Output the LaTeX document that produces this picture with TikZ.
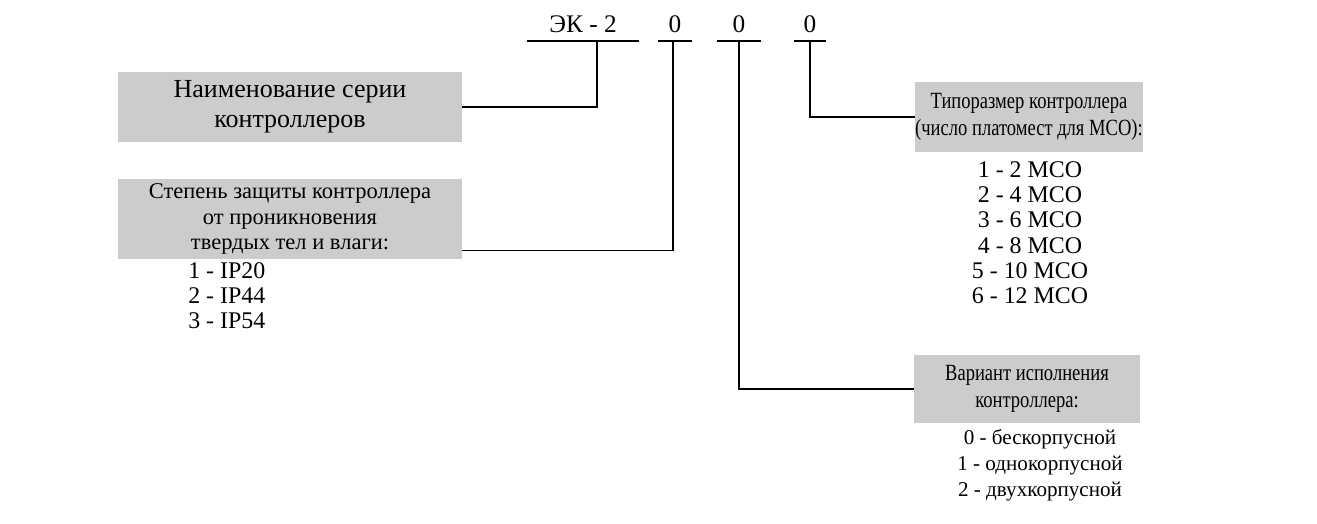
\documentclass[tikz,border=0pt]{standalone}
\usepackage{fontspec}
\setmainfont{Liberation Serif}
\newfontfamily\narrowserif[FakeStretch=0.8]{Liberation Serif}
\usetikzlibrary{calc}

\begin{document}
\begin{tikzpicture}[x=0.025cm, y=-0.025cm,
    code/.style={font=\fontsize{18}{20}\selectfont, inner xsep=0pt, inner ysep=6pt, text depth=0pt, anchor=south},
    caption/.style={fill=black!20, inner sep=0pt, align=center},
    values/.style={inner sep=0pt, font=\fontsize{17}{18}\selectfont},
    line/.style={line width=1.1pt}
  ]
    \useasboundingbox (0,0) rectangle (1317,524);

    % Designation
    \node[code, minimum width=2.8cm] (ek) at (583,41) {ЭК - 2};
    \node[code, minimum width=0.85cm] (z1) at (675,41) {0};
    \node[code, minimum width=1.075cm] (z2) at (739,41) {0};
    \node[code, minimum width=0.775cm] (z3) at (810,41) {0};
    \foreach \n in {ek,z1,z2,z3}
      \draw[line] (\n.south west) -- (\n.south east);

    % Captions
    \node[caption, minimum width=8.6cm, minimum height=1.75cm,
      font=\fontsize{18.5}{21}\selectfont] (name) at (290,107)
      {Наименование серии\\контроллеров};
    \node[caption, minimum width=8.6cm, minimum height=2cm,
      font=\fontsize{16}{18}\selectfont] (prot) at (290,219)
      {Степень защиты контроллера\\от проникновения\\твердых тел и влаги:};
    \node[caption, minimum width=5.55cm, minimum height=1.75cm,
      font=\narrowserif\fontsize{16.5}{19.5}\selectfont] (size) at (1029,117)
      {Типоразмер контроллера\\(число платомест для МСО):};
    \node[caption, minimum width=5.625cm, minimum height=1.7cm,
      font=\narrowserif\fontsize{16.5}{19}\selectfont] (var) at (1027,389)
      {Вариант исполнения\\контроллера:};

    % Values
    \node[values, align=left, anchor=north west] (ip) at (188,262)
      {1 - IP20\\2 - IP44\\3 - IP54};
    \node[values, align=center, anchor=north] (mco) at (1030,161)
      {1 - 2 МСО\\2 - 4 МСО\\3 - 6 МСО\\4 - 8 МСО\\5 - 10 МСО\\6 - 12 МСО};
    \node[values, align=center, anchor=north, font=\fontsize{15}{18.4}\selectfont] (ver) at (1040,429)
      {0 - бескорпусной\\1 - однокорпусной\\2 - двухкорпусной};

    % Lines
    \draw[line] ($(ek.south)+(14,0)$) |- (name.east);
    \draw[line] ($(z1.south)+(-2,0)$) |- ($(prot.south east)+(0,-9)$);
    \draw[line] (z2.south) |- (var.west);
    \draw[line] (z3.south) |- (size.west);

\end{tikzpicture}
\end{document}
